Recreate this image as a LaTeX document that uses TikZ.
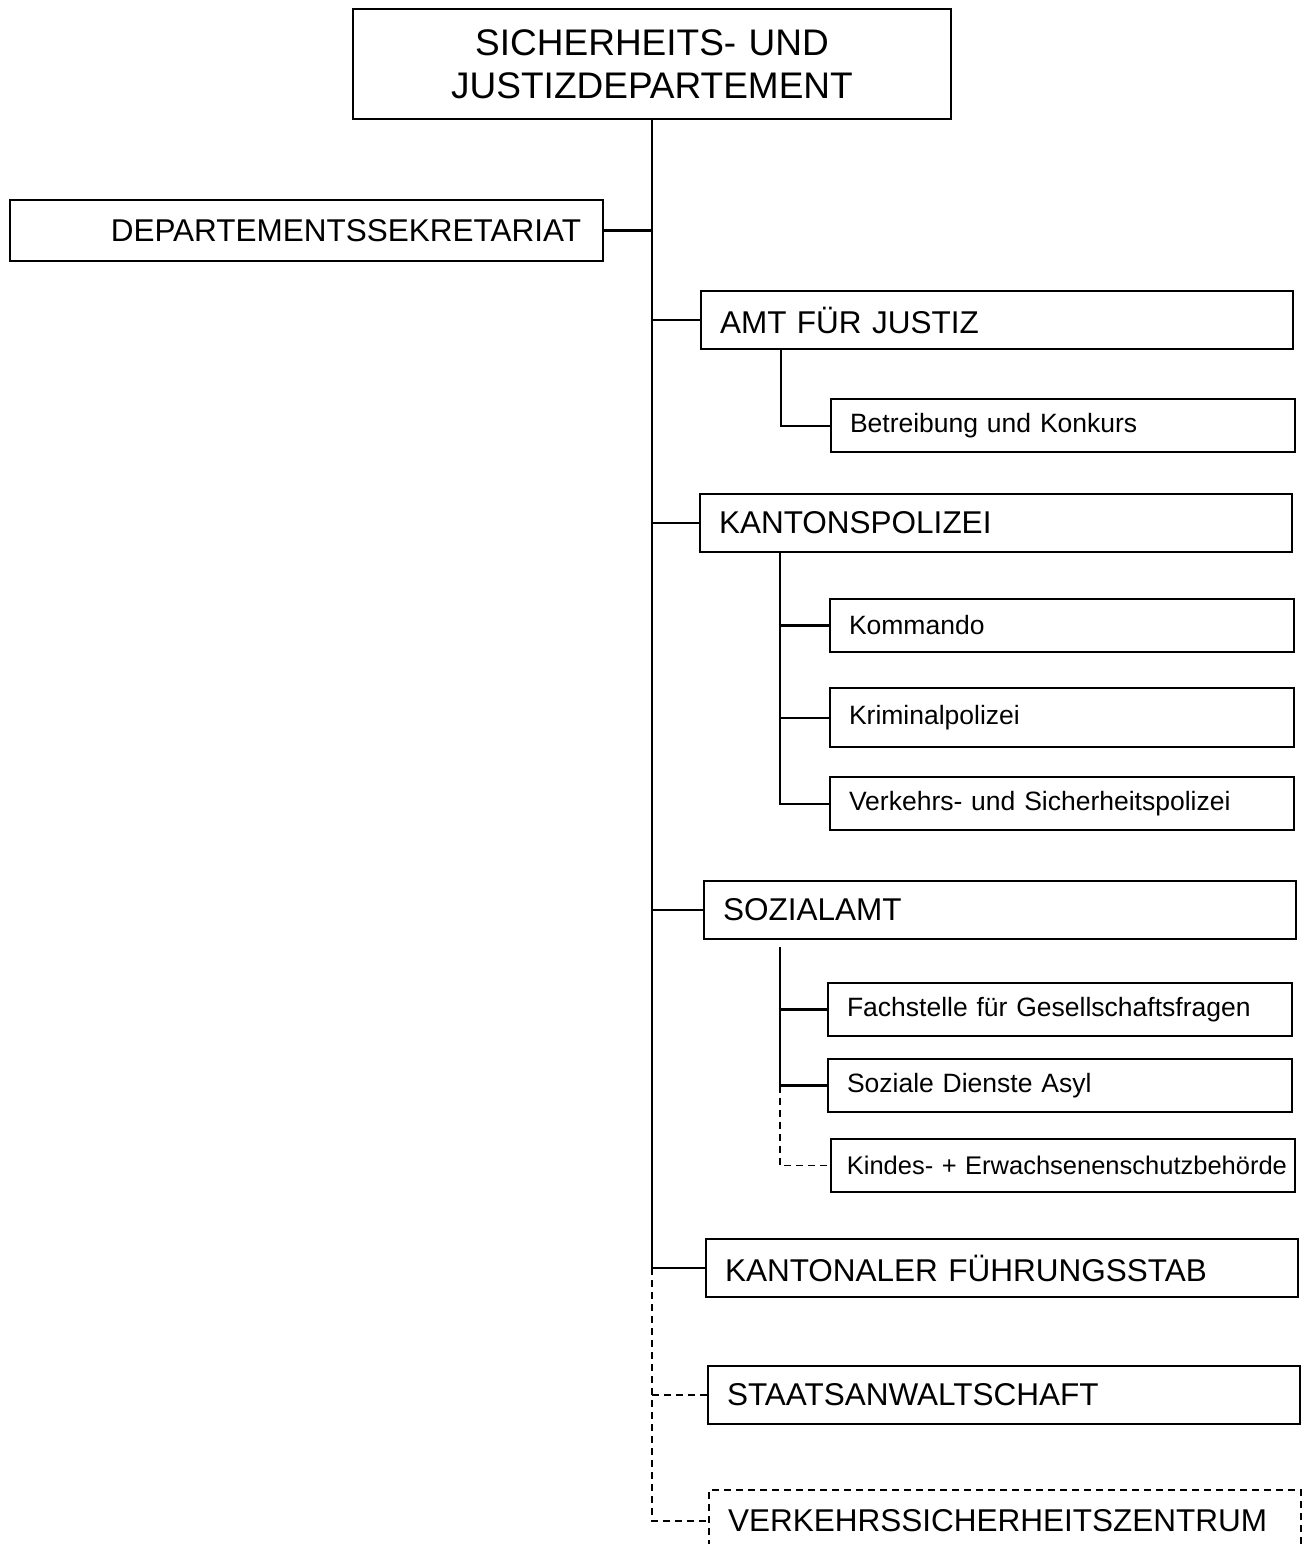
\documentclass[tikz,border=0pt]{standalone}
\usepackage{fontspec}
\setmainfont{Liberation Sans}
\usepackage{tikz}
\usetikzlibrary{positioning}

\newcommand\bigfnt{\fontsize{37}{43}\selectfont}
\newcommand\midfnt{\fontsize{31.5}{38}\selectfont}
\newcommand\smlfnt{\fontsize{26.5}{32}\selectfont}

\tikzset{
	unit/.style={draw, line width=2pt, rectangle, minimum height=58pt, text width=554pt, inner xsep=19pt, inner ysep=0pt, align=left, font=\midfnt, anchor=north west},
	subunit/.style={draw, line width=2pt, rectangle, minimum height=53pt, text width=426pt, inner xsep=19pt, inner ysep=0pt, align=left, font=\smlfnt, anchor=north west},
	link/.style={line width=2.5pt},
	dlink/.style={line width=1.8pt, dash pattern=on 7pt off 5pt}
}

\begin{document}
\begin{tikzpicture}[x=1pt,y=-1pt]
	\useasboundingbox (0,0) rectangle (1304,1544);
	% head of the department
	\node[unit, font=\bigfnt, text width=560pt, minimum height=110pt, align=center] (SJD) at (352,8) {SICHERHEITS- UND\\JUSTIZDEPARTEMENT};
	\node[unit, text width=549pt, inner xsep=22pt, minimum height=61pt, align=right] (DS) at (9,199) {DEPARTEMENTSSEKRETARIAT};
	% offices
	\node[unit] (AJ) at (700,290) {AMT FÜR JUSTIZ};
	\node[subunit] (BK) at (830,398) {Betreibung und Konkurs};
	\node[unit] (KP) at (699,493) {KANTONSPOLIZEI};
	\node[subunit] (KPK) at (829,598) {Kommando};
	\node[subunit, below=34pt of KPK, minimum height=59pt] (KPKr) {Kriminalpolizei};
	\node[subunit, below=28pt of KPKr] (KPV) {Verkehrs- und Sicherheitspolizei};
	\node[unit] (SA) at (703,880) {SOZIALAMT};
	\node[subunit] (FGF) at (827,982) {Fachstelle für Gesellschaftsfragen};
	\node[subunit, below=21pt of FGF] (SDA) {Soziale Dienste Asyl};
	\node[subunit, below=25pt of SDA, xshift=3pt, text width=448pt, inner xsep=8pt, align=right, font=\fontsize{25.5}{30}\selectfont] (KES) {Kindes- + Erwachsenenschutzbehörde};
	\node[unit] (KFS) at (705,1238) {KANTONALER FÜHRUNGSSTAB};
	\node[unit] (STA) at (707,1365) {STAATSANWALTSCHAFT};
	\node[unit, dashed, dash pattern=on 7pt off 5pt, minimum height=62pt] (VSZ) at (708,1489) {VERKEHRSSICHERHEITSZENTRUM};
	% main line
	\draw[link, line width=2pt] (SJD.south) -- (SJD.south |- KFS.west);
	\draw[dlink] (SJD.south |- KFS.west) -- (SJD.south |- VSZ.west) -- (VSZ.west);
	\draw[link] (DS.east) -- (DS.east -| SJD.south);
	\draw[link] (AJ.west) -- (AJ.west -| SJD.south);
	\draw[link] (KP.west) -- (KP.west -| SJD.south);
	\draw[link, line width=1.8pt] (SA.west) -- (SA.west -| SJD.south);
	\draw[link, line width=1.8pt] (KFS.west) -- (KFS.west -| SJD.south);
	\draw[dlink] (STA.west) -- (STA.west -| SJD.south);
	% sub lines
	\draw[link, line width=2pt] ([xshift=81pt]AJ.south west) |- (BK.west);
	\draw[link, line width=2pt] ([xshift=81pt]KP.south west) |- (KPV.west);
	\draw[link] (KPK.west) -- ++(-49,0);
	\draw[link, line width=2pt] (KPKr.west) -- ++(-49,0);
	\draw[link, line width=2pt] ([xshift=77pt,yshift=-7pt]SA.south west) coordinate (sz) -- (sz |- SDA.west);
	\draw[link] (FGF.west) -- (FGF.west -| sz);
	\draw[link] (SDA.west) -- (SDA.west -| sz);
	\draw[dlink] (sz |- SDA.west) |- (KES.west);
\end{tikzpicture}
\end{document}
